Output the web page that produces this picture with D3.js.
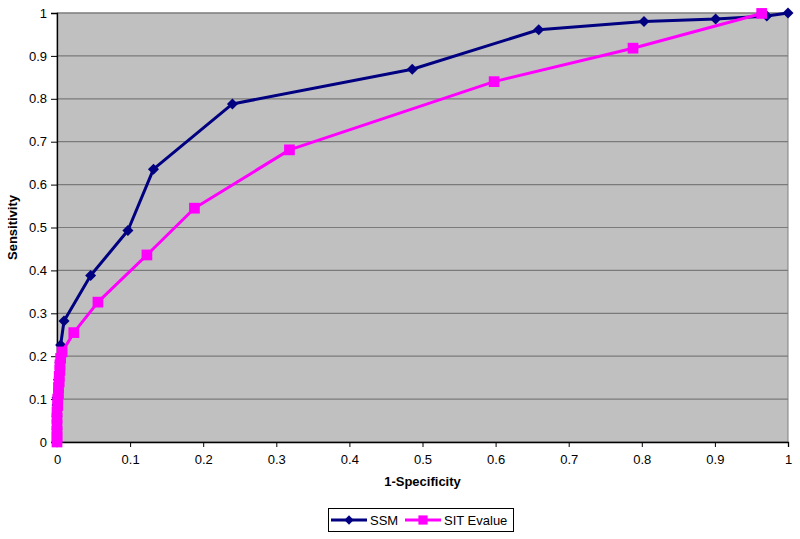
<!DOCTYPE html>
<html>
<head>
<meta charset="utf-8">
<script src="https://cdn.jsdelivr.net/npm/d3@7"></script>
<style>
  body { margin: 0; background: #fff; }
  svg { display: block; font-family: Arial, "Liberation Sans", sans-serif; }
</style>
</head>
<body>
<div id="chart"></div>
<script>
// SSM series (1-specificity, sensitivity)
const ssmX = [0, 0, 0, 0, 0, 0.002, 0.004, 0.005, 0.0096, 0.046, 0.097, 0.132, 0.240, 0.486, 0.659, 0.803, 0.901, 0.971, 1.0];
const ssmY = [0, 0.03, 0.06, 0.086, 0.103, 0.145, 0.185, 0.226, 0.282, 0.388, 0.493, 0.636, 0.788, 0.869, 0.961, 0.980, 0.986, 0.993, 1.0];

// SIT Evalue series
const sitX = [0, 0, 0, 0, 0, 0, 0.001, 0.001, 0.002, 0.002, 0.003, 0.003, 0.004, 0.004, 0.005, 0.007, 0.023, 0.056, 0.123, 0.188, 0.318, 0.598, 0.788, 0.964];
const sitY = [0, 0.012, 0.025, 0.04, 0.055, 0.07, 0.085, 0.1, 0.113, 0.127, 0.14, 0.153, 0.167, 0.18, 0.195, 0.21, 0.255, 0.326, 0.436, 0.545, 0.681, 0.840, 0.918, 0.999];

const tickValues = [0, 0.1, 0.2, 0.3, 0.4, 0.5, 0.6, 0.7, 0.8, 0.9, 1];
const seriesNames = ['SSM', 'SIT Evalue'];

class RocChart {
  constructor(aims) {
    this.chartContainer = d3.select(aims);
    this.chart = null;
    this.chartWidth = 800;
    this.chartHeight = 539;
    this.left = 57;   // plot area left
    this.top = 13;    // plot area top
    this.plotWidth = 731;
    this.plotHeight = 429;
    this.xScale = null;
    this.yScale = null;
  }

  render() {
    this.createSvg();
    this.initScales();
    this.bgColor();
    this.drawAxes();
    this.drawSeries(ssmX, ssmY, '#000080', 'diamond');
    this.drawSeries(sitX, sitY, '#ff00ff', 'square');
    this.drawLegend();
  }

  createSvg() {
    this.chart = this.chartContainer
      .append('svg')
      .attr('width', this.chartWidth)
      .attr('height', this.chartHeight);
  }

  initScales() {
    this.xScale = d3.scaleLinear().domain([0, 1]).range([this.left, this.left + this.plotWidth]);
    this.yScale = d3.scaleLinear().domain([0, 1]).range([this.top + this.plotHeight, this.top]);
  }

  bgColor() {
    this.chart.append('rect')
      .attr('x', this.left)
      .attr('y', this.top)
      .attr('width', this.plotWidth)
      .attr('height', this.plotHeight)
      .attr('fill', '#c0c0c0')
      .attr('stroke', '#808080')
      .attr('stroke-width', 1);

    // horizontal grid lines
    this.chart.append('g')
      .selectAll('line')
      .data(tickValues.slice(1))
      .enter()
      .append('line')
      .attr('x1', this.left)
      .attr('x2', this.left + this.plotWidth)
      .attr('y1', d => this.yScale(d))
      .attr('y2', d => this.yScale(d))
      .attr('stroke', '#7a7a7a')
      .attr('stroke-width', 1.2);
  }

  drawAxes() {
    let yAxis = d3.axisLeft(this.yScale).tickValues(tickValues).tickSize(6).tickPadding(4)
      .tickFormat(d3.format('~g'));
    let xAxis = d3.axisBottom(this.xScale).tickValues(tickValues).tickSize(5).tickPadding(8)
      .tickFormat(d3.format('~g'));

    let gy = this.chart.append('g')
      .attr('transform', 'translate(' + this.left + ',0)')
      .call(yAxis);
    let gx = this.chart.append('g')
      .attr('transform', 'translate(0,' + (this.top + this.plotHeight) + ')')
      .call(xAxis);

    [gx, gy].forEach(g => {
      g.select('.domain').attr('stroke', '#000').attr('stroke-width', 1.3);
      g.selectAll('.tick line').attr('stroke', '#000');
      g.selectAll('.tick text')
        .attr('fill', '#000')
        .attr('font-size', '13px')
        .attr('font-family', 'Arial, "Liberation Sans", sans-serif');
    });

    this.chart.append('text')
      .attr('x', this.left + this.plotWidth / 2)
      .attr('y', 486)
      .attr('text-anchor', 'middle')
      .attr('font-size', '13px')
      .attr('font-weight', 'bold')
      .text('1-Specificity');

    this.chart.append('text')
      .attr('transform', 'translate(17,' + (this.top + this.plotHeight / 2) + ') rotate(-90)')
      .attr('text-anchor', 'middle')
      .attr('font-size', '13px')
      .attr('font-weight', 'bold')
      .text('Sensitivity');
  }

  drawSeries(xs, ys, color, shape) {
    let pts = xs.map((x, i) => ({x: x, y: ys[i]}));
    let line = d3.line()
      .x(d => this.xScale(d.x))
      .y(d => this.yScale(d.y));

    let g = this.chart.append('g');
    g.append('path')
      .attr('d', line(pts))
      .attr('fill', 'none')
      .attr('stroke', color)
      .attr('stroke-width', 3)
      .attr('stroke-linejoin', 'round');

    let sym = shape === 'diamond'
      ? d3.symbol().type(d3.symbolDiamond2).size(78)
      : d3.symbol().type(d3.symbolSquare).size(115);

    g.selectAll('path.pt')
      .data(pts)
      .enter()
      .append('path')
      .attr('class', 'pt')
      .attr('d', sym)
      .attr('transform', d => 'translate(' + this.xScale(d.x) + ',' + this.yScale(d.y) + ')')
      .attr('fill', color);
  }

  drawLegend() {
    let legend = this.chart.append('g');
    legend.append('rect')
      .attr('x', 328.5)
      .attr('y', 508.5)
      .attr('width', 185)
      .attr('height', 23)
      .attr('fill', '#fff')
      .attr('stroke', '#000');

    let items = [
      {name: seriesNames[0], color: '#000080', x: 331, sym: d3.symbol().type(d3.symbolDiamond2).size(55)},
      {name: seriesNames[1], color: '#ff00ff', x: 405, sym: d3.symbol().type(d3.symbolSquare).size(85)}
    ];
    items.forEach(it => {
      legend.append('line')
        .attr('x1', it.x).attr('x2', it.x + 36)
        .attr('y1', 520).attr('y2', 520)
        .attr('stroke', it.color)
        .attr('stroke-width', 3);
      legend.append('path')
        .attr('d', it.sym)
        .attr('transform', 'translate(' + (it.x + 18) + ',520)')
        .attr('fill', it.color);
      legend.append('text')
        .attr('x', it.x + 39)
        .attr('y', 525)
        .attr('font-size', '13px')
        .attr('fill', '#000')
        .text(it.name);
    });
  }
}

new RocChart('#chart').render();
</script>
</body>
</html>
